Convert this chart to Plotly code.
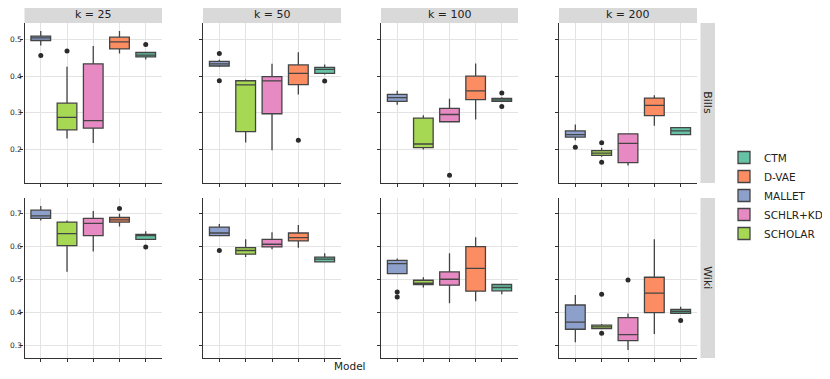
import plotly.graph_objects as go

# x order inside every panel
MODELS = ["MALLET", "SCHOLAR", "SCHLR+KD", "D-VAE", "CTM"]
K_VALUES = [25, 50, 100, 200]
DATASETS = ["Bills", "Wiki"]

COLORS = {
    "CTM": "#66c2a5",
    "D-VAE": "#fc8d62",
    "MALLET": "#8da0cb",
    "SCHLR+KD": "#e78ac3",
    "SCHOLAR": "#a6d854",
}
LEGEND_ORDER = ["CTM", "D-VAE", "MALLET", "SCHLR+KD", "SCHOLAR"]

# box statistics, one row per k, columns follow MODELS
BILLS_Q1 = [[0.498, 0.253, 0.2575, 0.475, 0.453],
            [0.428, 0.248, 0.297, 0.377, 0.408],
            [0.331, 0.204, 0.275, 0.336, 0.331],
            [0.233, 0.183, 0.163, 0.292, 0.240]]
BILLS_MED = [[0.505, 0.287, 0.278, 0.494, 0.458],
             [0.434, 0.376, 0.387, 0.408, 0.419],
             [0.341, 0.214, 0.295, 0.360, 0.335],
             [0.240, 0.189, 0.2155, 0.320, 0.250]]
BILLS_Q3 = [[0.510, 0.326, 0.434, 0.507, 0.465],
            [0.4405, 0.3875, 0.399, 0.431, 0.424],
            [0.350, 0.285, 0.3115, 0.400, 0.339],
            [0.250, 0.196, 0.242, 0.340, 0.259]]
BILLS_LO = [[0.4845, 0.229, 0.217, 0.4625, 0.446],
            [0.425, 0.218, 0.197, 0.350, 0.405],
            [0.3216, 0.199, 0.275, 0.281, 0.329],
            [0.2246, 0.179, 0.155, 0.264, 0.2426]]
BILLS_HI = [[0.524, 0.426, 0.483, 0.524, 0.466],
            [0.445, 0.391, 0.434, 0.466, 0.432],
            [0.360, 0.293, 0.338, 0.435, 0.342],
            [0.2676, 0.2036, 0.243, 0.348, 0.260]]
BILLS_OUT_K = [25, 25, 25, 50, 50, 50, 50, 100, 100, 100, 200, 200, 200]
BILLS_OUT_MODEL = ["MALLET", "SCHOLAR", "CTM", "MALLET", "MALLET", "D-VAE", "CTM",
                   "SCHLR+KD", "CTM", "CTM", "MALLET", "SCHOLAR", "SCHOLAR"]
BILLS_OUT_VAL = [0.457, 0.469, 0.487, 0.4625, 0.3875, 0.224, 0.3866,
                 0.1285, 0.3536, 0.317, 0.2054, 0.2173, 0.1642]

WIKI_Q1 = [[0.684, 0.602, 0.632, 0.673, 0.621],
           [0.632, 0.576, 0.598, 0.616, 0.5525],
           [0.517, 0.484, 0.482, 0.464, 0.465],
           [0.3485, 0.3505, 0.314, 0.399, 0.397]]
WIKI_MED = [[0.692, 0.638, 0.669, 0.680, 0.632],
            [0.640, 0.587, 0.606, 0.626, 0.561],
            [0.5475, 0.488, 0.500, 0.533, 0.475],
            [0.370, 0.3556, 0.332, 0.458, 0.403]]
WIKI_Q3 = [[0.709, 0.673, 0.684, 0.687, 0.636],
           [0.658, 0.596, 0.621, 0.640, 0.567],
           [0.557, 0.497, 0.522, 0.599, 0.484],
           [0.422, 0.361, 0.384, 0.506, 0.409]]
WIKI_LO = [[0.678, 0.523, 0.584, 0.660, 0.619],
           [0.632, 0.567, 0.591, 0.595, 0.5525],
           [0.517, 0.475, 0.427, 0.433, 0.4545],
           [0.309, 0.350, 0.286, 0.334, 0.397]]
WIKI_HI = [[0.722, 0.678, 0.707, 0.698, 0.6455],
           [0.667, 0.621, 0.642, 0.664, 0.579],
           [0.563, 0.506, 0.579, 0.627, 0.486],
           [0.4525, 0.3646, 0.396, 0.621, 0.417]]
WIKI_OUT_K = [25, 25, 50, 100, 100, 200, 200, 200, 200]
WIKI_OUT_MODEL = ["D-VAE", "CTM", "MALLET", "MALLET", "MALLET",
                  "SCHOLAR", "SCHOLAR", "SCHLR+KD", "CTM"]
WIKI_OUT_VAL = [0.714, 0.598, 0.587, 0.4616, 0.4465, 0.4545, 0.3364, 0.498, 0.3747]

Y_TICKS = {"Bills": [0.2, 0.3, 0.4, 0.5], "Wiki": [0.3, 0.4, 0.5, 0.6, 0.7]}
Y_RANGE = {"Bills": [0.107, 0.546], "Wiki": [0.2615, 0.746]}

STATS = {
    "Bills": (BILLS_Q1, BILLS_MED, BILLS_Q3, BILLS_LO, BILLS_HI,
              BILLS_OUT_K, BILLS_OUT_MODEL, BILLS_OUT_VAL),
    "Wiki": (WIKI_Q1, WIKI_MED, WIKI_Q3, WIKI_LO, WIKI_HI,
             WIKI_OUT_K, WIKI_OUT_MODEL, WIKI_OUT_VAL),
}

# the page body has an 8px margin, so the figure is a bit smaller than the window
PAGE_PAD = 8
W, H = 830 - PAGE_PAD, 379 - PAGE_PAD
COL_PX = [(24.5, 162), (203, 341), (381, 518), (559, 697)]
ROW_PX = {"Bills": (23, 183), "Wiki": (198, 358)}
FONT = "DejaVu Sans"
AXIS_COLOR = "#333333"
GRID_COLOR = "#e3e3e3"
STRIP_COLOR = "#d9d9d9"


def fx(px):
    return (px - PAGE_PAD) / W


def fy(px):
    return 1 - (px - PAGE_PAD) / H


fig = go.Figure()
layout = {}
shapes = []
annotations = []

for r, ds in enumerate(DATASETS):
    q1s, meds, q3s, los, his, out_k, out_m, out_v = STATS[ds]
    y0px, y1px = ROW_PX[ds]
    ydom = [fy(y1px), fy(y0px)]
    for c, k in enumerate(K_VALUES):
        idx = r * 4 + c + 1
        sfx = "" if idx == 1 else str(idx)
        xa, ya = "x" + sfx, "y" + sfx
        x0px, x1px = COL_PX[c]
        xdom = [fx(x0px), fx(x1px)]

        for m, model in enumerate(MODELS):
            fig.add_trace(go.Box(
                x=[model], q1=[q1s[c][m]], median=[meds[c][m]], q3=[q3s[c][m]],
                lowerfence=[los[c][m]], upperfence=[his[c][m]],
                name=model, legendgroup=model,
                showlegend=(idx == 1), legendrank=LEGEND_ORDER.index(model) + 1,
                fillcolor=COLORS[model], line=dict(color="#444444", width=1.3),
                width=0.75, boxpoints=False, whiskerwidth=0,
                xaxis=xa, yaxis=ya, hoverinfo="skip",
            ))

        ox = [mm for kk, mm in zip(out_k, out_m) if kk == k]
        oy = [vv for kk, vv in zip(out_k, out_v) if kk == k]
        if ox:
            fig.add_trace(go.Scatter(
                x=ox, y=oy, mode="markers", showlegend=False,
                marker=dict(color="#2b2b2b", size=5),
                xaxis=xa, yaxis=ya, hoverinfo="skip",
            ))

        layout["xaxis" + sfx] = dict(
            domain=xdom, anchor=ya, type="category",
            categoryorder="array", categoryarray=MODELS,
            range=[-0.62, 4.62], showticklabels=False, automargin=False,
            ticks="outside", ticklen=3, tickcolor=AXIS_COLOR,
            showgrid=True, gridcolor=GRID_COLOR, gridwidth=1.2,
            showline=True, linecolor=AXIS_COLOR, linewidth=1.2,
            zeroline=False, fixedrange=True,
        )
        layout["yaxis" + sfx] = dict(
            domain=ydom, anchor=xa, range=Y_RANGE[ds], automargin=False,
            tickvals=Y_TICKS[ds], ticktext=[f"{t:.1f}" for t in Y_TICKS[ds]],
            showticklabels=(c == 0), ticks="outside", ticklen=3,
            ticklabelstandoff=-3,
            tickcolor=AXIS_COLOR, tickfont=dict(size=7.5, color="#222222"),
            showgrid=True, gridcolor=GRID_COLOR, gridwidth=1.2,
            showline=True, linecolor=AXIS_COLOR, linewidth=1.2,
            zeroline=False, fixedrange=True,
        )

        # column strips on top row
        if r == 0:
            shapes.append(dict(type="rect", xref="paper", yref="paper",
                               x0=fx(x0px), x1=fx(x1px), y0=fy(23), y1=fy(6.5),
                               fillcolor=STRIP_COLOR, line=dict(width=0), layer="below"))
            annotations.append(dict(text=f"k = {k}", xref="paper", yref="paper",
                                    x=fx((x0px + x1px) / 2), y=fy(14.8),
                                    xanchor="center", yanchor="middle",
                                    showarrow=False, font=dict(size=11, color="#222222")))

    # row strip on the right
    shapes.append(dict(type="rect", xref="paper", yref="paper",
                       x0=fx(700.5), x1=fx(715), y0=ydom[0], y1=ydom[1],
                       fillcolor=STRIP_COLOR, line=dict(width=0), layer="below"))
    annotations.append(dict(text=ds, xref="paper", yref="paper",
                            x=fx(707.8), y=(ydom[0] + ydom[1]) / 2, textangle=90,
                            xanchor="center", yanchor="middle",
                            showarrow=False, font=dict(size=11, color="#222222")))

annotations.append(dict(text="Model", xref="paper", yref="paper",
                        x=fx(349.5), y=fy(366), showarrow=False,
                        xanchor="center", yanchor="middle",
                        font=dict(size=10.5, color="#222222")))

fig.update_layout(
    **layout,
    shapes=shapes,
    annotations=annotations,
    boxmode="overlay",
    width=W, height=H,
    margin=dict(l=0, r=0, t=0, b=0, autoexpand=False),
    paper_bgcolor="white", plot_bgcolor="white",
    font=dict(family=FONT, color="#222222"),
    showlegend=True,
    legend=dict(x=fx(724), y=fy(143), xanchor="left", yanchor="top",
                font=dict(size=10.5), tracegroupgap=0, itemwidth=30,
                bgcolor="rgba(0,0,0,0)"),
)

fig.write_html("out.html")
